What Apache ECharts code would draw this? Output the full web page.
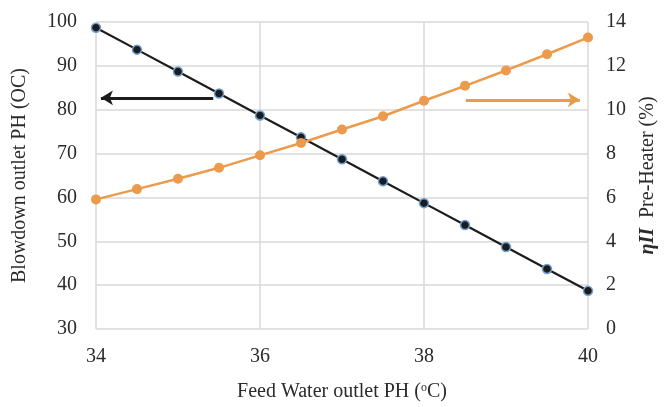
<!DOCTYPE html>
<html lang="en">
<head>
	<meta charset="UTF-8">
	<title>Feed Water outlet PH</title>
	<script src="https://cdn.jsdelivr.net/npm/echarts@6/dist/echarts.min.js"></script>
	<style>
		html,body{margin:0;padding:0;background:#fff;}
	</style>
</head>
<body>
	<div id="chart" style="width:666px; height:407px;"></div>
</body>

<script>
	// x values (Feed Water outlet PH)
	var feedPH = [34, 34.5, 35, 35.5, 36, 36.5, 37, 37.5, 38, 38.5, 39, 39.5, 40];
	// left axis - blowdown outlet PH
	var blowdown = [98.7, 93.7, 88.7, 83.7, 78.7, 73.7, 68.7, 63.7, 58.7, 53.7, 48.7, 43.7, 38.7];
	// right axis - eta II pre-heater (%)
	var etaII = [5.91, 6.38, 6.85, 7.35, 7.92, 8.48, 9.10, 9.70, 10.41, 11.09, 11.79, 12.53, 13.29];
	var xTicks = [34, 36, 38, 40];

	var font = 'Liberation Serif';
	var gridColor = '#d9d9d9';

	function pairs(xs, ys){
		var arr = [];
		for (var i = 0; i < xs.length; i++) {
			arr.push([xs[i], ys[i]]);
		};
		return arr;
	}

	var option = {
		animation: false,
		backgroundColor: '#fff',
		grid: {left: 96, right: 71, top: 22, bottom: 68},
		xAxis: {
			type: 'value',
			min: xTicks[0],
			max: xTicks[xTicks.length - 1],
			interval: 2,
			name: 'Feed Water outlet PH ({sup|o}C)',
			nameLocation: 'middle',
			nameGap: 53,
			nameTextStyle: {
				fontFamily: font, fontSize: 20, color: '#2b2b2b',
				rich: {sup: {fontFamily: font, fontSize: 12, color: '#2b2b2b', verticalAlign: 'top', padding: [0, 0, 8, 0]}}
			},
			axisLine: {show: false},
			axisTick: {show: false},
			axisLabel: {fontFamily: font, fontSize: 20, color: '#2b2b2b', margin: 18},
			splitLine: {show: true, lineStyle: {color: gridColor, width: 1.5}}
		},
		yAxis: [{
			type: 'value',
			min: 30,
			max: 100,
			interval: 10,
			name: 'Blowdown outlet PH (OC)',
			nameLocation: 'middle',
			nameRotate: 90,
			nameGap: 66,
			nameTextStyle: {fontFamily: font, fontSize: 20, color: '#2b2b2b'},
			axisLine: {show: false},
			axisTick: {show: false},
			axisLabel: {fontFamily: font, fontSize: 20, color: '#2b2b2b', margin: 19},
			splitLine: {show: true, lineStyle: {color: gridColor, width: 1.5}}
		}, {
			type: 'value',
			min: 0,
			max: 14,
			interval: 2,
			position: 'right',
			name: '{b|ηII}  Pre-Heater (%)',
			nameLocation: 'middle',
			nameRotate: 90,
			nameGap: 50,
			nameTextStyle: {
				fontFamily: font, fontSize: 20, color: '#2b2b2b',
				rich: {b: {fontFamily: font, fontSize: 20, color: '#2b2b2b', fontWeight: 'bold', fontStyle: 'italic'}}
			},
			axisLine: {show: false},
			axisTick: {show: false},
			axisLabel: {fontFamily: font, fontSize: 20, color: '#2b2b2b', margin: 18},
			splitLine: {show: false}
		}],
		series: [{
			name: 'Blowdown',
			type: 'line',
			yAxisIndex: 0,
			data: pairs(feedPH, blowdown),
			symbol: 'circle',
			symbolSize: 9,
			lineStyle: {color: '#1c1c1c', width: 2.2},
			itemStyle: {color: '#1c1c1c', borderColor: '#6f9fd0', borderWidth: 1.5},
			markLine: {
				silent: true,
				symbol: ['none', 'arrow'],
				symbolSize: [11, 12],
				label: {show: false},
				lineStyle: {color: '#1c1c1c', width: 3, type: 'solid'},
				data: [[{coord: [35.43, 82.7]}, {coord: [34.06, 82.7]}]]
			}
		}, {
			name: 'etaII',
			type: 'line',
			yAxisIndex: 1,
			data: pairs(feedPH, etaII),
			symbol: 'circle',
			symbolSize: 10,
			lineStyle: {color: '#ec9a4c', width: 2.5},
			itemStyle: {color: '#ec9a4c'},
			markLine: {
				silent: true,
				symbol: ['none', 'arrow'],
				symbolSize: [11, 12],
				label: {show: false},
				lineStyle: {color: '#ec9a4c', width: 3, type: 'solid'},
				data: [[{coord: [38.51, 10.45]}, {coord: [39.9, 10.45]}]]
			}
		}]
	};

	var myChart = echarts.init(document.getElementById('chart'));
	myChart.setOption(option);
</script>
</html>
